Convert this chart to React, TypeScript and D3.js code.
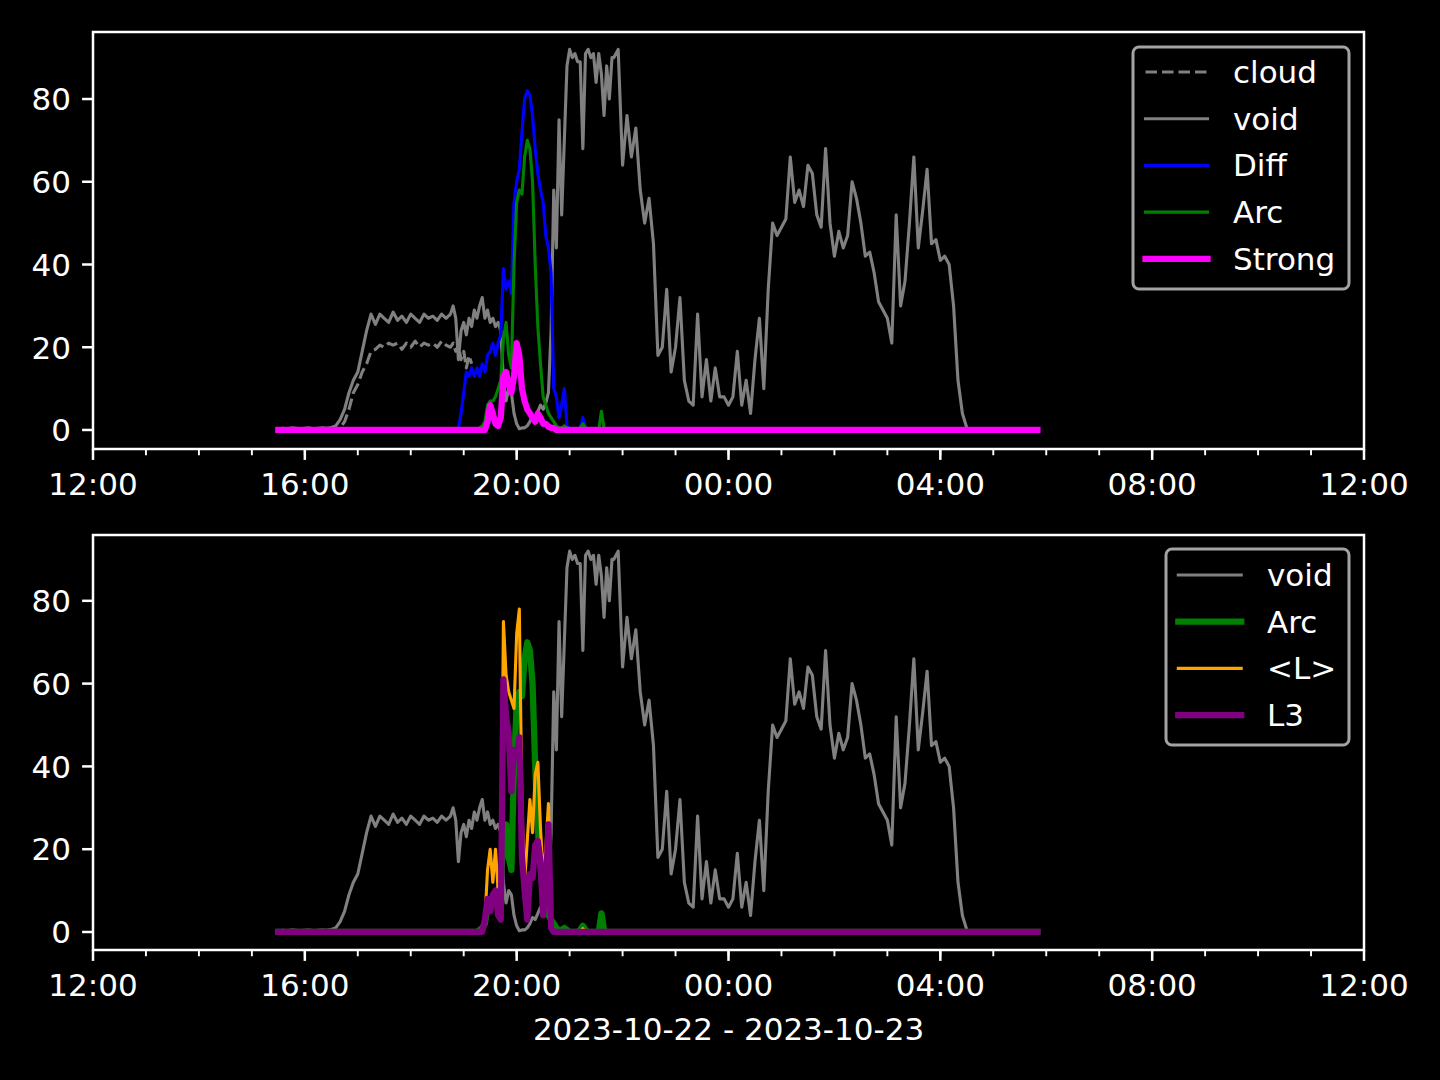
import React from "react";
import * as d3 from "d3";

// ---------------- DATA ----------------
// sampling of the recorded series (local time)
const SEGMENTS = [
  { start: "2023-10-22 15:30", stepMinutes: 5, count: 39 },
  { start: "2023-10-22 18:45", stepMinutes: 3, count: 62 },
  { start: "2023-10-22 21:50", stepMinutes: 5, count: 97 },
];

const X_DOMAIN = ["2023-10-22 12:00", "2023-10-23 12:00"];
const Y_TICKS = [0, 20, 40, 60, 80];
const X_LABEL = "2023-10-22 - 2023-10-23";

// readings equal to zero before the active window (15:30 - 18:40)
const quietBefore = [
  0, 0, 0, 0, 0, 0, 0, 0, 0, 0,
  0, 0, 0, 0, 0, 0, 0, 0, 0, 0,
  0, 0, 0, 0, 0, 0, 0, 0, 0, 0,
  0, 0, 0, 0, 0, 0, 0, 0, 0,
];
// readings equal to zero after the active window (21:50 - 05:50)
const quietAfter = [
  0, 0, 0, 0, 0, 0, 0, 0, 0, 0,
  0, 0, 0, 0, 0, 0, 0, 0, 0, 0,
  0, 0, 0, 0, 0, 0, 0, 0, 0, 0,
  0, 0, 0, 0, 0, 0, 0, 0, 0, 0,
  0, 0, 0, 0, 0, 0, 0, 0, 0, 0,
  0, 0, 0, 0, 0, 0, 0, 0, 0, 0,
  0, 0, 0, 0, 0, 0, 0, 0, 0, 0,
  0, 0, 0, 0, 0, 0, 0, 0, 0, 0,
  0, 0, 0, 0, 0, 0, 0, 0, 0, 0,
  0, 0, 0, 0, 0, 0, 0,
];

const voidValues = [
  // 15:30 - 18:40 (5 min)
  0.3, 0.4, 0.3, 0.5, 0.4, 0.3, 0.4, 0.5, 0.3, 0.4,
  0.5, 0.4, 0.6, 1, 2.5, 5, 9, 12, 14, 19,
  24, 28, 25.5, 28, 27, 26, 28.5, 26.5, 27.5, 26,
  28, 27, 26, 28, 27, 27.5, 26.5, 28, 27,
  // 18:45 - 21:48 (3 min)
  28, 30, 27, 17, 24, 26, 23, 27, 25, 29,
  27, 30, 32, 27, 29, 26, 27, 25, 26, 24,
  12, 7, 10, 9, 4, 1.5, 0.3, 0.5, 0.5, 1,
  2, 3.5, 3, 4.5, 6, 5, 6.5, 9, 24, 58,
  44, 75, 52, 70, 88, 92, 90, 91, 89, 89,
  68, 91, 92, 90, 91, 84, 91, 86, 76, 88,
  80, 90,
  // 21:50 - 05:50 (5 min)
  90, 92, 64, 76, 66, 73, 58, 50, 56, 45,
  18, 20, 34, 14, 20, 32, 12, 7, 6, 28,
  8, 17, 7, 15, 8, 8, 6, 8, 19, 6,
  12, 4, 17, 27, 10, 34, 50, 47, 49, 51,
  66, 55, 58, 54, 64, 62, 52, 49, 68, 50,
  42, 48, 44, 47, 60, 56, 50, 42, 43, 38,
  31, 29, 27, 21, 52, 30, 36, 50, 66, 44,
  53, 63, 45, 46, 41, 42, 40, 30, 12, 4,
  0.5, 0, 0, 0, 0, 0, 0, 0, 0, 0,
  0, 0, 0, 0, 0, 0, 0,
];

// cloud only recorded from 15:30 to 19:09
const cloudValues = [
  0, 0, 0, 0, 0, 0, 0, 0, 0, 0,
  0, 0, 0, 0, 0.5, 2, 5, 9, 11, 14,
  16, 19, 19.5, 20.5, 20, 21, 20.5, 21, 19.5, 21,
  20, 21.5, 20, 21, 20.5, 21, 20, 21.5, 20.5,
  20, 21, 19, 20.5, 17, 19, 15, 18, 16,
];

const diffActive = [
  0, 0, 0, 0.5, 4, 9, 14, 13, 15, 13,
  15, 13, 16, 14, 18, 19, 21, 18, 21, 23,
  39, 34, 36, 33, 55, 60, 63, 72, 80, 82,
  81, 76, 68, 62, 58, 55, 47, 44, 38, 10,
  8, 3, 6, 10, 1, 0.3, 0, 0, 0, 0.5,
  3, 0.5, 0, 0, 0, 0, 0, 0, 0, 0,
  0, 0,
];

const arcActive = [
  0, 0, 0, 0, 0, 0, 0, 0, 0, 0,
  0, 0.5, 1, 2, 6, 7, 7, 8, 10, 12,
  22, 26, 18, 15, 40, 55, 58, 57, 66, 70,
  68, 60, 40, 25, 16, 8, 6, 4, 3, 2,
  1, 0.5, 0.5, 1, 0.5, 0, 0, 0, 0, 0.5,
  1.5, 0.5, 0, 0, 0, 0, 0, 4.5, 0.5, 0,
  0, 0,
];

const strongActive = [
  0, 0, 0, 0, 0, 0, 0, 0, 0, 0,
  0, 0, 0, 0, 2, 6, 4, 1.5, 1, 3,
  13, 14, 11, 9, 13, 21, 18, 10, 7, 5,
  4, 3, 2, 4, 3, 1.5, 1.5, 0.8, 0.5, 0.5,
  0, 0, 0, 0, 0, 0, 0, 0, 0, 0,
  0, 0, 0, 0, 0, 0, 0, 0, 0, 0,
  0, 0,
];

const lMeanActive = [
  0, 0, 0, 0, 0, 0, 0, 0, 0, 0,
  0, 0, 0, 3, 15, 20, 12, 20, 10, 3,
  75, 62, 58, 56, 54, 72, 78, 30, 12, 22,
  32, 24, 38, 41, 25, 14, 20, 31, 2, 0.5,
  0, 0, 0, 0, 0, 0, 0, 0, 0, 0,
  0.8, 0, 0, 0, 0, 0, 0, 0, 0, 0,
  0, 0,
];

const l3Active = [
  0, 0, 0, 0, 0, 0, 0, 0, 0, 0,
  0, 0, 0, 3, 8, 5, 9, 10, 4, 3,
  61, 52, 48, 34, 44, 42, 47, 18, 10, 3,
  14, 13, 21, 22, 17, 4, 10, 26, 1, 0,
  0, 0, 0, 0, 0, 0, 0, 0, 0, 0,
  0, 0, 0, 0, 0, 0, 0, 0, 0, 0,
  0, 0,
];

const diffValues = [...quietBefore, ...diffActive, ...quietAfter];
const arcValues = [...quietBefore, ...arcActive, ...quietAfter];
const strongValues = [...quietBefore, ...strongActive, ...quietAfter];
const lMeanValues = [...quietBefore, ...lMeanActive, ...quietAfter];
const l3Values = [...quietBefore, ...l3Active, ...quietAfter];

// ---------------- LAYOUT / STYLE ----------------
const W = 1440;
const H = 1080;
const PLOT_LEFT = 93;
const PLOT_RIGHT = 1364;
const FONT = "'DejaVu Sans', 'Liberation Sans', sans-serif";
const FS = 31;
const THIN = 3.1;
const THICK = 6.25;

const parse = d3.timeParse("%Y-%m-%d %H:%M");
const times: Date[] = SEGMENTS.flatMap((s) => {
  const t0 = parse(s.start) as Date;
  return d3.range(s.count).map((i) => d3.timeMinute.offset(t0, i * s.stepMinutes));
});

type Series = {
  label: string;
  values: number[];
  color: string;
  width: number;
  dash?: string;
};

const topSeries: Series[] = [
  { label: "cloud", values: cloudValues, color: "#808080", width: THIN, dash: "11.5 5" },
  { label: "void", values: voidValues, color: "#808080", width: THIN },
  { label: "Diff", values: diffValues, color: "#0000ff", width: THIN },
  { label: "Arc", values: arcValues, color: "#008000", width: THIN },
  { label: "Strong", values: strongValues, color: "#ff00ff", width: THICK },
];

const bottomSeries: Series[] = [
  { label: "void", values: voidValues, color: "#808080", width: THIN },
  { label: "Arc", values: arcValues, color: "#008000", width: THICK },
  { label: "<L>", values: lMeanValues, color: "#ffa500", width: THIN },
  { label: "L3", values: l3Values, color: "#800080", width: THICK },
];

type Panel = {
  top: number;
  bottom: number;
  yDomain: [number, number];
  series: Series[];
  legend: { x: number; y: number; w: number; h: number; row0: number; lx0: number; lx1: number; tx: number };
  xlabel?: string;
};

const panels: Panel[] = [
  {
    top: 32,
    bottom: 449,
    yDomain: [-4.6, 96.2],
    series: topSeries,
    legend: { x: 1133, y: 47, w: 216, h: 242, row0: 72, lx0: 1145.5, lx1: 1207.5, tx: 1233 },
  },
  {
    top: 535,
    bottom: 950,
    yDomain: [-4.35, 95.9],
    series: bottomSeries,
    legend: { x: 1166, y: 549, w: 183, h: 196, row0: 575, lx0: 1178.3, lx1: 1241.2, tx: 1267 },
    xlabel: X_LABEL,
  },
];

const ROW_STEP = 46.7;

const x = d3
  .scaleTime()
  .domain(X_DOMAIN.map((s) => parse(s) as Date))
  .range([PLOT_LEFT, PLOT_RIGHT]);

const majorTicks = x.ticks(d3.timeHour.every(4) as d3.TimeInterval);
const minorTicks = x.ticks(d3.timeHour.every(1) as d3.TimeInterval);
const fmt = d3.timeFormat("%H:%M");

function PanelView({ p }: { p: Panel }) {
  const y = d3.scaleLinear().domain(p.yDomain).range([p.bottom, p.top]);
  const line = d3
    .line<number>()
    .x((_, i) => x(times[i]))
    .y((d) => y(d));
  const L = p.legend;
  return (
    <g>
      {p.series.map((s) => (
        <path
          key={s.label}
          d={line(s.values) || ""}
          fill="none"
          stroke={s.color}
          strokeWidth={s.width}
          strokeDasharray={s.dash}
          strokeLinejoin="round"
          strokeLinecap={s.dash ? "butt" : "square"}
        />
      ))}
      {/* spines */}
      <rect
        x={PLOT_LEFT}
        y={p.top}
        width={PLOT_RIGHT - PLOT_LEFT}
        height={p.bottom - p.top}
        fill="none"
        stroke="#ffffff"
        strokeWidth={2.5}
      />
      {/* y ticks */}
      {Y_TICKS.map((t) => (
        <g key={t}>
          <line x1={PLOT_LEFT - 10.9} x2={PLOT_LEFT} y1={y(t)} y2={y(t)} stroke="#fff" strokeWidth={2.5} />
          <text
            x={PLOT_LEFT - 22}
            y={y(t) + 11.3}
            textAnchor="end"
            fill="#fff"
            fontFamily={FONT}
            fontSize={FS}
          >
            {t}
          </text>
        </g>
      ))}
      {/* x minor ticks */}
      {minorTicks.map((t) => (
        <line
          key={"m" + t.getTime()}
          x1={x(t)}
          x2={x(t)}
          y1={p.bottom}
          y2={p.bottom + 6.25}
          stroke="#fff"
          strokeWidth={1.9}
        />
      ))}
      {/* x major ticks */}
      {majorTicks.map((t) => (
        <g key={"M" + t.getTime()}>
          <line x1={x(t)} x2={x(t)} y1={p.bottom} y2={p.bottom + 10.9} stroke="#fff" strokeWidth={2.5} />
          <text
            x={x(t)}
            y={p.bottom + 46}
            textAnchor="middle"
            fill="#fff"
            fontFamily={FONT}
            fontSize={FS}
          >
            {fmt(t)}
          </text>
        </g>
      ))}
      {p.xlabel && (
        <text
          x={(PLOT_LEFT + PLOT_RIGHT) / 2}
          y={p.bottom + 90}
          textAnchor="middle"
          fill="#fff"
          fontFamily={FONT}
          fontSize={FS}
        >
          {p.xlabel}
        </text>
      )}
      {/* legend */}
      <rect x={L.x} y={L.y} width={L.w} height={L.h} rx={6} ry={6} fill="#000" stroke="#a3a3a3" strokeWidth={3} />
      {p.series.map((s, i) => {
        const cy = L.row0 + i * ROW_STEP;
        return (
          <g key={"lg" + s.label}>
            <line
              x1={L.lx0}
              x2={L.lx1}
              y1={cy}
              y2={cy}
              stroke={s.color}
              strokeWidth={s.width}
              strokeDasharray={s.dash}
              strokeLinecap={s.dash ? "butt" : "square"}
            />
            <text x={L.tx} y={cy + 11} fill="#fff" fontFamily={FONT} fontSize={FS}>
              {s.label}
            </text>
          </g>
        );
      })}
    </g>
  );
}

export default function App() {
  return (
    <svg
      width={W}
      height={H}
      viewBox={`0 0 ${W} ${H}`}
      style={{ position: "absolute", left: 0, top: 0, display: "block", background: "#000" }}
    >
      <rect x={0} y={0} width={W} height={H} fill="#000" />
      {panels.map((p, i) => (
        <PanelView key={i} p={p} />
      ))}
    </svg>
  );
}
